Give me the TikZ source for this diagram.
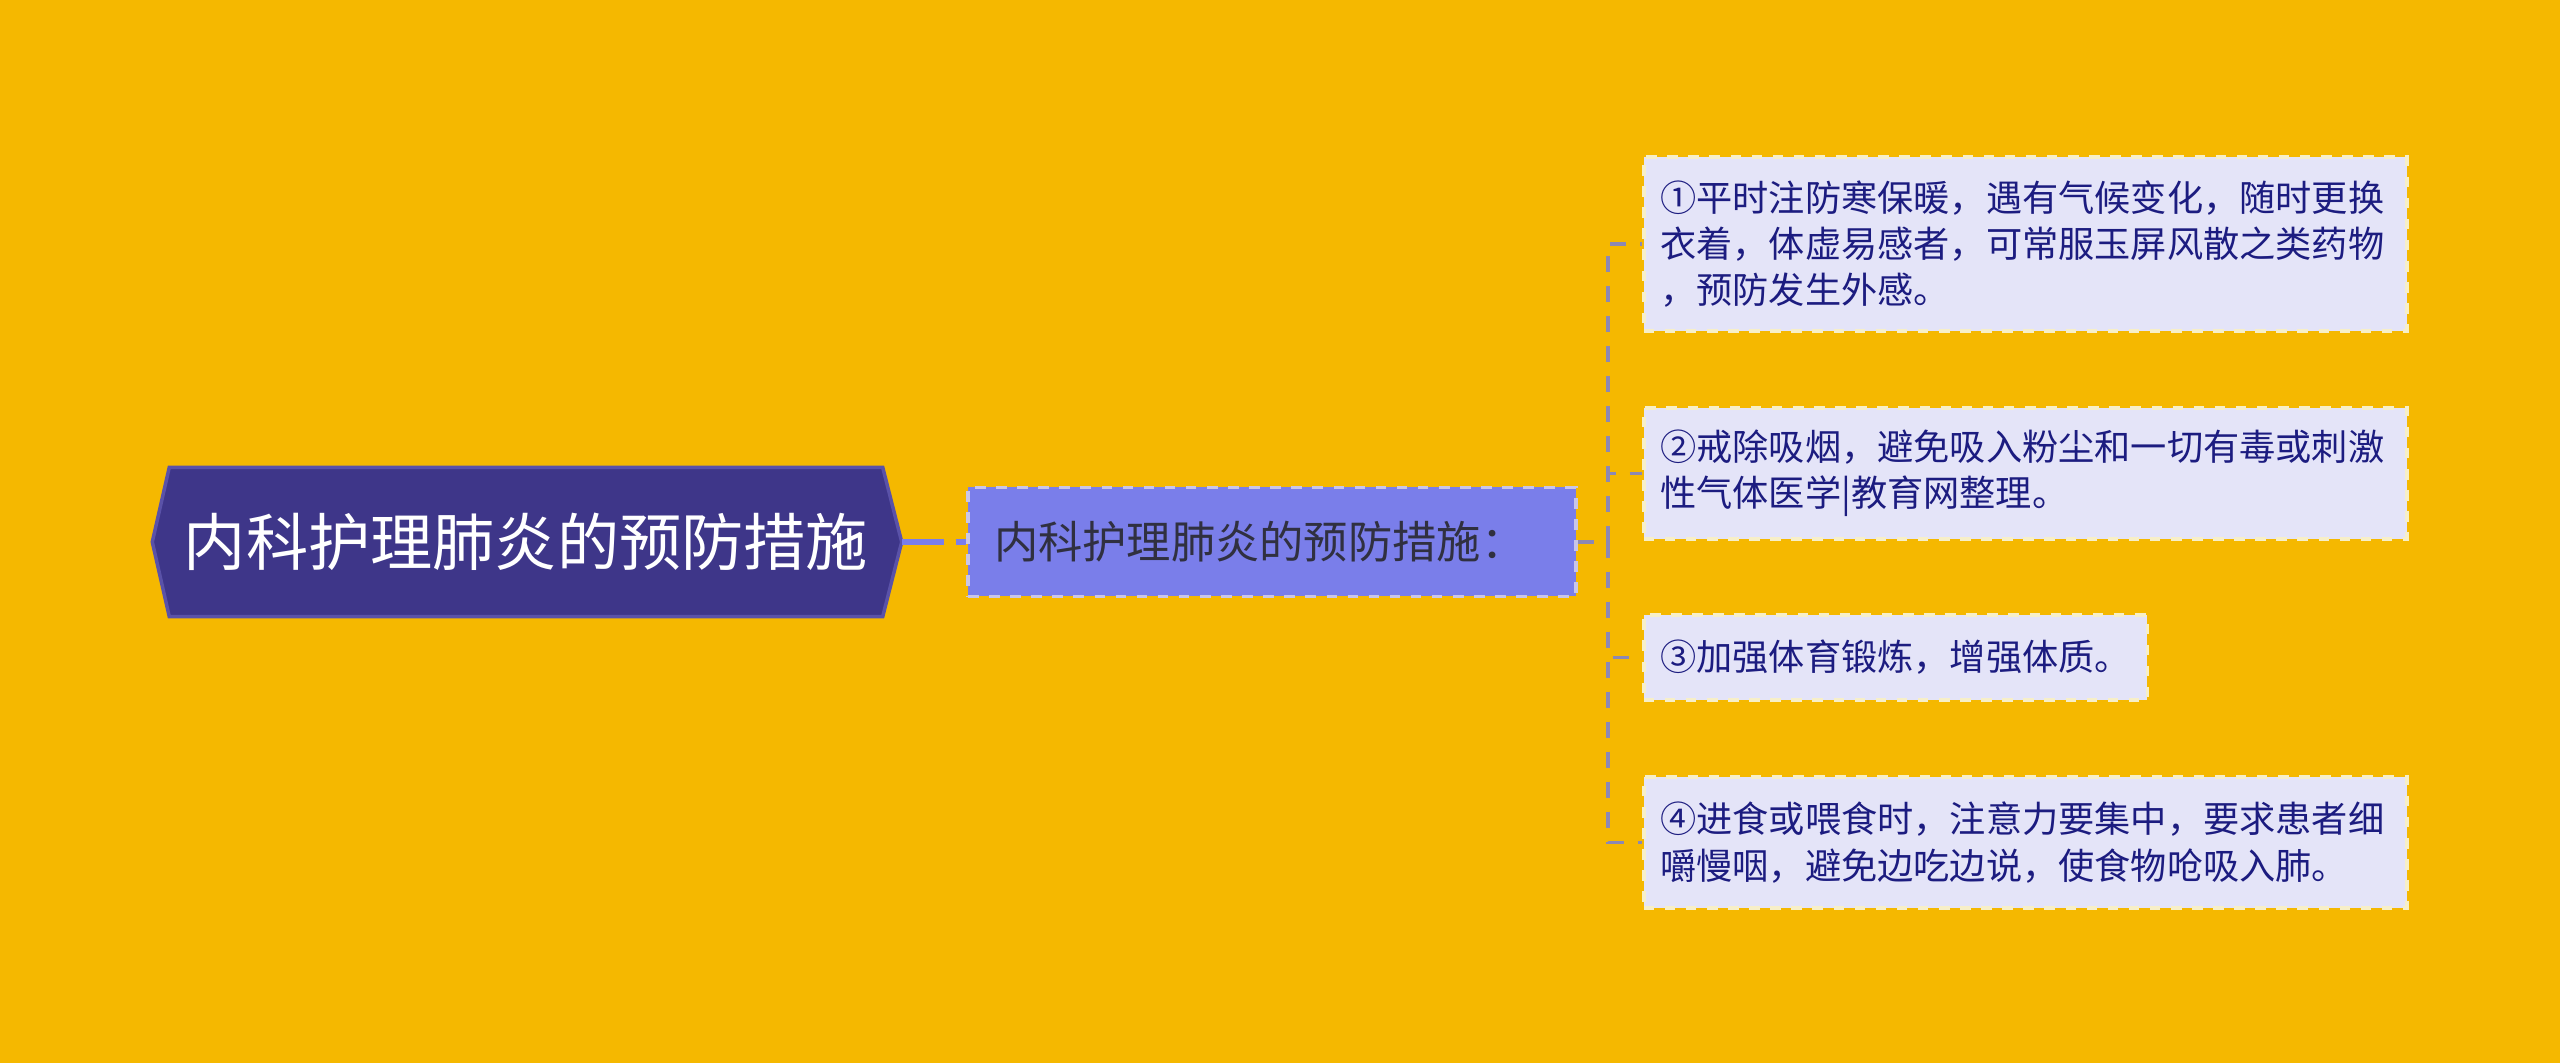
\documentclass[tikz,border=0pt]{standalone}
\usepackage{fontspec}
\setmainfont{Noto Sans CJK SC}
\usetikzlibrary{backgrounds}

\definecolor{bgyellow}{HTML}{F5B800}
\definecolor{rootfill}{HTML}{3E3689}
\definecolor{rootline}{HTML}{5A52A8}
\definecolor{subfill}{HTML}{7A7EEA}
\definecolor{subline}{HTML}{C9C6E8}
\definecolor{subtext}{HTML}{303040}
\definecolor{leaffill}{HTML}{E4E4F8}
\definecolor{leafline}{HTML}{F7EFC8}
\definecolor{leaftext}{HTML}{1C1C80}
\definecolor{linkblue}{HTML}{7A7EEA}
\definecolor{branchgray}{HTML}{8C88B4}

\begin{document}
\begin{tikzpicture}[
    leaf/.style={draw=leafline, dashed, line width=1pt, fill=leaffill, text=leaftext, anchor=west, align=left,
                 inner xsep=0.165cm, font=\fontsize{10.3}{13.2}\selectfont},
    branch/.style={draw=branchgray, line width=1pt, dash pattern=on 0.16cm off 0.14cm},
    rootlink/.style={draw=linkblue, line width=1.6pt, dash pattern=on 0.42cm off 0.12cm}]
\useasboundingbox (0,0) rectangle (25.6,10.63);

% main topic
\node[minimum width=7.12cm, minimum height=1.48cm, text=white, font=\fontsize{17.7}{20}\selectfont] (root) at (5.26,5.21) {内科护理肺炎的预防措施};
\node[fill=subfill, draw=subline, dashed, line width=1pt, inner xsep=0.26cm, text width=5.56cm, align=left,
      minimum height=1.09cm, text=subtext, font=\fontsize{12.6}{15}\selectfont] (sub) at (12.72,5.21) {内科护理肺炎的预防措施：};

% the four measures
\node[leaf, text width=7.3cm, minimum height=1.74cm] (l1) at (16.42,8.19) {①平时注防寒保暖，遇有气候变化，随时更换\\衣着，体虚易感者，可常服玉屏风散之类药物\\，预防发生外感。};
\node[leaf, text width=7.3cm, minimum height=1.31cm] (l2) at (16.42,5.895) {②戒除吸烟，避免吸入粉尘和一切有毒或刺激\\性气体医学|教育网整理。};
\node[leaf, minimum height=0.85cm] (l3) at (16.42,4.055) {③加强体育锻炼，增强体质。};
\node[leaf, text width=7.3cm, minimum height=1.31cm] (l4) at (16.42,2.205) {④进食或喂食时，注意力要集中，要求患者细\\嚼慢咽，避免边吃边说，使食物呛吸入肺。};

\begin{scope}[on background layer]
\fill[bgyellow] (0,0) rectangle (25.6,10.63);
\path[fill=rootfill, draw=rootline, line width=1pt] (root.north west) -- (root.north east) -- ([xshift=0.19cm]root.east)
    -- (root.south east) -- (root.south west) -- ([xshift=-0.17cm]root.west) -- cycle;
\end{scope}

\coordinate (hub) at (16.08,5.21);
\draw[rootlink] ([xshift=0.19cm]root.east) -- (sub.west);
\draw[branch] (sub.east) -- (hub);
\foreach \leafname in {l1,l2,l3,l4}
    \draw[branch] (hub) |- (\leafname.west);
\end{tikzpicture}
\end{document}
